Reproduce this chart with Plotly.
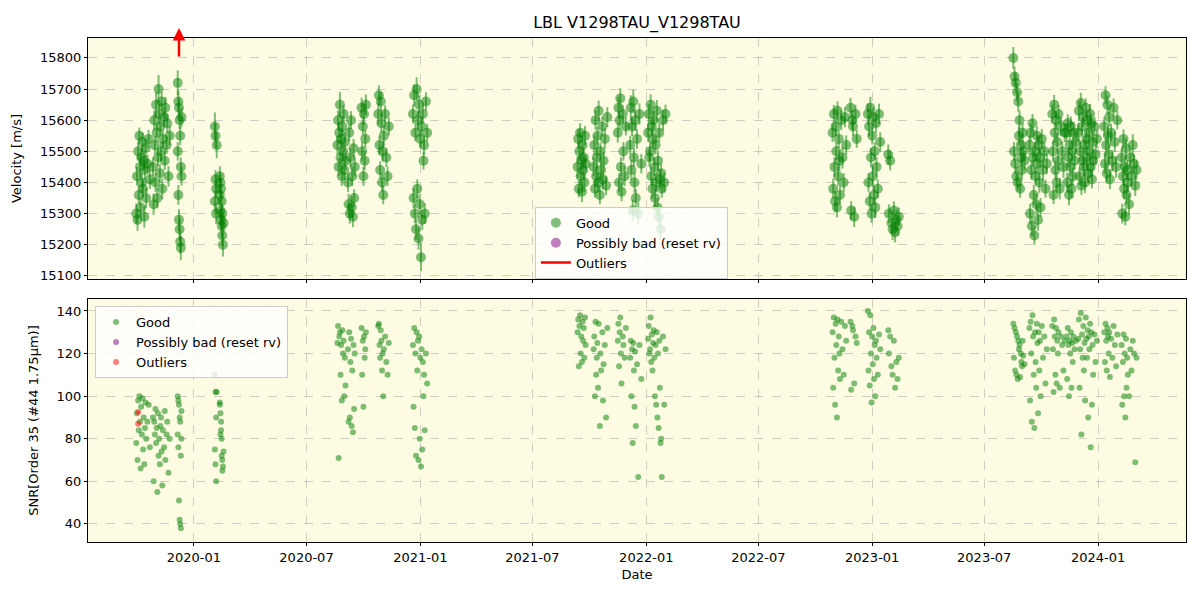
import plotly.graph_objects as go
from plotly.subplots import make_subplots

# ---- Good measurements: dates, RV [m/s], RV error [m/s], SNR ----
dates = [
    # 2019 Sep-Oct (20)
    "2019-09-30", "2019-10-01", "2019-10-02", "2019-10-03", "2019-10-04", "2019-10-05", "2019-10-06", "2019-10-07", "2019-10-08", "2019-10-09",
    "2019-10-10", "2019-10-11", "2019-10-12", "2019-10-13", "2019-10-14", "2019-10-15", "2019-10-16", "2019-10-18", "2019-10-20", "2019-10-22",
    # 2019 Oct-Nov (24)
    "2019-10-27", "2019-10-28", "2019-10-29", "2019-10-30", "2019-10-31", "2019-11-01", "2019-11-02", "2019-11-03", "2019-11-04", "2019-11-05",
    "2019-11-06", "2019-11-07", "2019-11-08", "2019-11-09", "2019-11-10", "2019-11-11", "2019-11-12", "2019-11-14", "2019-11-15", "2019-11-16",
    "2019-11-18", "2019-11-19", "2019-11-21", "2019-11-23",
    # 2019 Dec (14)
    "2019-12-06", "2019-12-06", "2019-12-07", "2019-12-07", "2019-12-08", "2019-12-08", "2019-12-09", "2019-12-09", "2019-12-10", "2019-12-10",
    "2019-12-11", "2019-12-11", "2019-12-12", "2019-12-12",
    # 2020 Feb (19)
    "2020-02-04", "2020-02-04", "2020-02-05", "2020-02-05", "2020-02-06", "2020-02-06", "2020-02-07",
    "2020-02-12", "2020-02-12", "2020-02-13", "2020-02-13", "2020-02-14", "2020-02-14", "2020-02-15", "2020-02-15", "2020-02-16",
    "2020-02-16", "2020-02-17", "2020-02-18",
    # 2020 Aug-Oct (34)
    "2020-08-20", "2020-08-21", "2020-08-22", "2020-08-23", "2020-08-24", "2020-08-25", "2020-08-26", "2020-08-27", "2020-08-28", "2020-08-29",
    "2020-08-30", "2020-08-31", "2020-09-01", "2020-09-02",
    "2020-09-06", "2020-09-07", "2020-09-08", "2020-09-09", "2020-09-10", "2020-09-11", "2020-09-12", "2020-09-13", "2020-09-14", "2020-09-15",
    "2020-09-16", "2020-09-17",
    "2020-09-28", "2020-09-29", "2020-09-30", "2020-10-01", "2020-10-02", "2020-10-03", "2020-10-04", "2020-10-05",
    # 2020 Oct-Nov (14)
    "2020-10-25", "2020-10-26", "2020-10-27", "2020-10-28", "2020-10-29", "2020-10-30", "2020-10-31", "2020-11-01", "2020-11-02", "2020-11-03",
    "2020-11-05", "2020-11-07", "2020-11-09", "2020-11-11",
    # 2020 Dec - 2021 Jan (22)
    "2020-12-20", "2020-12-21", "2020-12-22", "2020-12-23", "2020-12-24", "2020-12-25", "2020-12-26", "2020-12-27", "2020-12-28", "2020-12-29",
    "2020-12-30", "2020-12-31", "2021-01-01", "2021-01-02", "2021-01-03", "2021-01-04", "2021-01-05", "2021-01-06", "2021-01-07", "2021-01-08",
    "2021-01-10", "2021-01-12",
    # 2021 Sep (14)
    "2021-09-12", "2021-09-13", "2021-09-14", "2021-09-15", "2021-09-16", "2021-09-17", "2021-09-18", "2021-09-19", "2021-09-20", "2021-09-21",
    "2021-09-22", "2021-09-23", "2021-09-24", "2021-09-25",
    # 2021 Oct (18)
    "2021-10-08", "2021-10-09", "2021-10-10", "2021-10-11", "2021-10-12", "2021-10-13", "2021-10-14", "2021-10-15", "2021-10-16",
    "2021-10-18", "2021-10-19", "2021-10-20", "2021-10-22", "2021-10-23", "2021-10-24", "2021-10-26", "2021-10-28", "2021-10-30",
    # 2021 Nov (11)
    "2021-11-16", "2021-11-17", "2021-11-18", "2021-11-19", "2021-11-20", "2021-11-21", "2021-11-22", "2021-11-24", "2021-11-25", "2021-11-27",
    "2021-11-29",
    # 2021 Dec (14)
    "2021-12-06", "2021-12-07", "2021-12-08", "2021-12-09", "2021-12-10", "2021-12-11", "2021-12-12", "2021-12-13", "2021-12-14", "2021-12-15",
    "2021-12-17", "2021-12-19", "2021-12-21", "2021-12-24",
    # 2022 Jan (26)
    "2022-01-04", "2022-01-05", "2022-01-06", "2022-01-07", "2022-01-08", "2022-01-09", "2022-01-10", "2022-01-11", "2022-01-12", "2022-01-13",
    "2022-01-14", "2022-01-15", "2022-01-16", "2022-01-17", "2022-01-18", "2022-01-19", "2022-01-20", "2022-01-21", "2022-01-22", "2022-01-23",
    "2022-01-24", "2022-01-25", "2022-01-26", "2022-01-28", "2022-01-30", "2022-02-01",
    # 2022 Oct-Nov (18)
    "2022-10-29", "2022-10-30", "2022-10-31", "2022-11-01", "2022-11-02", "2022-11-03", "2022-11-04", "2022-11-05", "2022-11-06", "2022-11-07",
    "2022-11-08", "2022-11-09", "2022-11-10", "2022-11-12", "2022-11-14", "2022-11-16", "2022-11-18", "2022-11-20",
    # 2022 Nov-Dec (7)
    "2022-11-27", "2022-11-28", "2022-11-30", "2022-12-01", "2022-12-03", "2022-12-05", "2022-12-07",
    # 2022 Dec - 2023 Jan (18)
    "2022-12-25", "2022-12-26", "2022-12-27", "2022-12-28", "2022-12-29", "2022-12-30", "2022-12-31", "2023-01-01", "2023-01-02", "2023-01-03",
    "2023-01-04", "2023-01-05", "2023-01-06", "2023-01-07", "2023-01-08", "2023-01-10", "2023-01-12", "2023-01-14",
    # 2023 Jan-Feb (10)
    "2023-01-27", "2023-01-28", "2023-01-30", "2023-02-01", "2023-02-03", "2023-02-05", "2023-02-07", "2023-02-09", "2023-02-11", "2023-02-13",
    # 2023 Aug-Sep (18)
    "2023-08-17", "2023-08-18", "2023-08-19", "2023-08-20", "2023-08-21", "2023-08-22", "2023-08-23", "2023-08-24", "2023-08-25", "2023-08-26",
    "2023-08-27", "2023-08-28", "2023-08-29", "2023-08-30", "2023-08-31", "2023-09-01", "2023-09-02", "2023-09-04",
    # 2023 Sep-Oct (24)
    "2023-09-12", "2023-09-13", "2023-09-14", "2023-09-15", "2023-09-16", "2023-09-17", "2023-09-18", "2023-09-19", "2023-09-20", "2023-09-21",
    "2023-09-22", "2023-09-23", "2023-09-24", "2023-09-25", "2023-09-26", "2023-09-27", "2023-09-28", "2023-09-29", "2023-09-30", "2023-10-02",
    "2023-10-04", "2023-10-06", "2023-10-08", "2023-10-10",
    # 2023 Oct-Nov (16)
    "2023-10-19", "2023-10-20", "2023-10-21", "2023-10-22", "2023-10-23", "2023-10-24", "2023-10-25", "2023-10-26", "2023-10-27", "2023-10-28",
    "2023-10-29", "2023-10-31", "2023-11-02", "2023-11-04", "2023-11-06", "2023-11-08",
    # 2023 Nov (14)
    "2023-11-11", "2023-11-12", "2023-11-13", "2023-11-14", "2023-11-15", "2023-11-16", "2023-11-17", "2023-11-18", "2023-11-19", "2023-11-20",
    "2023-11-21", "2023-11-22", "2023-11-24", "2023-11-26",
    # 2023 Dec (28)
    "2023-11-30", "2023-12-01", "2023-12-02", "2023-12-03", "2023-12-04", "2023-12-05", "2023-12-06", "2023-12-07", "2023-12-08", "2023-12-09",
    "2023-12-10", "2023-12-11", "2023-12-12", "2023-12-13", "2023-12-14", "2023-12-15", "2023-12-16", "2023-12-17", "2023-12-18", "2023-12-19",
    "2023-12-20", "2023-12-21", "2023-12-22", "2023-12-23", "2023-12-24", "2023-12-26", "2023-12-28", "2023-12-30",
    # 2024 Jan (16)
    "2024-01-11", "2024-01-12", "2024-01-13", "2024-01-14", "2024-01-15", "2024-01-16", "2024-01-17", "2024-01-18", "2024-01-19", "2024-01-20",
    "2024-01-22", "2024-01-24", "2024-01-26", "2024-01-28", "2024-01-30", "2024-02-01",
    # 2024 Feb-Mar (18)
    "2024-02-08", "2024-02-09", "2024-02-10", "2024-02-11", "2024-02-12", "2024-02-13", "2024-02-14", "2024-02-15", "2024-02-16", "2024-02-17",
    "2024-02-18", "2024-02-20", "2024-02-22", "2024-02-24", "2024-02-26", "2024-02-28", "2024-03-01", "2024-03-03",
]

rv = [
    15300, 15420, 15280, 15500, 15360, 15550, 15450, 15320, 15480, 15400, 15530, 15380, 15470, 15290, 15440, 15510, 15350, 15460, 15540, 15410,
    15450, 15330, 15600, 15520, 15400, 15650, 15560, 15350, 15480, 15700, 15620, 15430, 15580, 15500, 15660, 15380, 15540, 15610, 15470, 15640,
    15520, 15590, 15420, 15550,
    15720, 15500, 15660, 15360, 15640, 15280, 15600, 15250, 15550, 15210, 15450, 15190, 15610, 15420,
    15580, 15340, 15550, 15410, 15300, 15380, 15520,
    15420, 15360, 15310, 15400, 15280, 15380, 15260, 15340, 15230, 15300, 15200, 15270,
    15520, 15600, 15450, 15560, 15650, 15480, 15540, 15420, 15580, 15500, 15620, 15440, 15530, 15470,
    15400, 15330, 15560, 15300, 15480, 15600, 15320, 15420, 15290, 15510, 15350, 15450,
    15640, 15500, 15580, 15420, 15620, 15470, 15540, 15650,
    15620, 15680, 15520, 15440, 15660, 15590, 15400, 15500, 15360, 15550, 15620, 15480, 15420, 15580,
    15620, 15350, 15680, 15300, 15560, 15250, 15700, 15380, 15600, 15220, 15650, 15330, 15540, 15160, 15580, 15280, 15620, 15470, 15520, 15300,
    15660, 15560,
    15450, 15540, 15380, 15500, 15560, 15420, 15470, 15370, 15520, 15440, 15480, 15400, 15550, 15460,
    15450, 15520, 15380, 15600, 15420, 15480, 15550, 15400, 15630, 15360, 15500, 15440, 15580, 15410, 15470, 15540, 15390, 15610,
    15560, 15640, 15400, 15600, 15670, 15450, 15370, 15620, 15500, 15420, 15580,
    15520, 15640, 15440, 15580, 15310, 15660, 15480, 15400, 15600, 15350, 15540, 15300, 15620, 15460,
    15560, 15620, 15480, 15500, 15650, 15420, 15580, 15380, 15540, 15600, 15450, 15350, 15520, 15400, 15630, 15320, 15470, 15290, 15560, 15410,
    15250, 15430, 15380, 15600, 15400, 15620,
    15560, 15380, 15620, 15450, 15340, 15580, 15500, 15320, 15630, 15420, 15540, 15470, 15360, 15600, 15480, 15400, 15610, 15520,
    15640, 15310, 15600, 15580, 15290, 15620, 15540,
    15620, 15400, 15580, 15340, 15640, 15480, 15300, 15550, 15420, 15610, 15360, 15500, 15320, 15590, 15450, 15380, 15620, 15530,
    15490, 15300, 15470, 15270, 15250, 15310, 15240, 15280, 15260, 15290,
    15800, 15500, 15740, 15460, 15720, 15420, 15690, 15400, 15660, 15550, 15600, 15380, 15520, 15480, 15440, 15560, 15500, 15470,
    15520, 15300, 15560, 15440, 15260, 15590, 15480, 15360, 15230, 15500, 15420, 15330, 15550, 15460, 15280, 15520, 15400, 15480, 15320, 15540,
    15440, 15500, 15380, 15460,
    15620, 15500, 15360, 15650, 15560, 15440, 15600, 15400, 15530, 15470, 15620, 15380, 15580, 15500, 15450, 15560,
    15560, 15400, 15590, 15480, 15360, 15520, 15450, 15580, 15380, 15500, 15420, 15560, 15470, 15530,
    15560, 15630, 15420, 15500, 15655, 15390, 15580, 15470, 15610, 15450, 15520, 15400, 15640, 15540, 15480, 15600, 15430, 15560, 15500, 15620,
    15450, 15590, 15410, 15530, 15470, 15580, 15490, 15540,
    15580, 15460, 15680, 15520, 15430, 15650, 15550, 15490, 15610, 15410, 15560, 15470, 15640, 15530, 15450, 15600,
    15480, 15300, 15420, 15540, 15380, 15450, 15290, 15510, 15360, 15440, 15400, 15330, 15480, 15420, 15520, 15460, 15390, 15440,
]

rv_err = [
    32, 30, 35, 28, 30, 26, 34, 30, 28, 32, 30, 29, 31, 35, 30, 28, 33, 30, 29, 31,
    30, 34, 32, 28, 30, 40, 30, 33, 29, 45, 32, 30, 28, 31, 30, 34, 29, 32, 30, 35, 28, 30, 33, 31,
    40, 30, 35, 32, 30, 34, 28, 36, 30, 38, 30, 40, 32, 30,
    45, 35, 40, 30, 34, 30, 42, 32, 30, 35, 30, 33, 30, 36, 30, 34, 30, 38, 32,
    30, 32, 28, 35, 40, 30, 29, 31, 33, 30, 28, 32, 30, 29,
    30, 34, 28, 32, 30, 29, 35, 31, 33, 30, 28, 30,
    32, 30, 28, 31, 34, 30, 29, 33,
    35, 32, 30, 28, 31, 30, 29, 33, 30, 32, 28, 30, 31, 29,
    30, 32, 35, 30, 28, 34, 38, 30, 32, 36, 30, 34, 28, 45, 30, 32, 30, 29, 31, 33, 30, 28,
    35, 30, 28, 32, 30, 31, 29, 33, 30, 28, 32, 30, 31, 29,
    30, 32, 28, 31, 30, 34, 29, 30, 33, 30, 28, 32, 31, 30, 29, 33, 30, 32,
    32, 35, 30, 29, 33, 31, 30, 28, 30, 32, 29,
    30, 40, 32, 31, 35, 38, 30, 33, 34, 30, 32, 36, 34, 31,
    30, 32, 29, 31, 33, 30, 28, 32, 30, 31, 29, 34, 30, 32, 35, 30, 33, 31, 30, 32, 35, 30, 29, 33, 31, 30,
    30, 32, 29, 31, 33, 30, 28, 32, 30, 31, 29, 34, 30, 32, 35, 30, 33, 31,
    32, 30, 30, 31, 33, 30, 29,
    34, 30, 32, 29, 35, 31, 30, 28, 32, 30, 31, 29, 34, 30, 32, 30, 33, 31,
    32, 30, 31, 33, 35, 30, 32, 34, 31, 30,
    35, 30, 32, 31, 33, 30, 30, 28, 32, 30, 31, 29, 34, 30, 32, 30, 33, 31,
    30, 32, 29, 31, 33, 30, 28, 32, 30, 31, 29, 34, 30, 32, 35, 30, 33, 31, 30, 32, 35, 30, 29, 33,
    30, 32, 29, 31, 33, 30, 28, 32, 30, 31, 29, 34, 30, 32, 35, 30,
    30, 32, 29, 31, 33, 30, 28, 32, 30, 31, 29, 34, 30, 32,
    30, 32, 29, 31, 33, 30, 28, 32, 30, 31, 29, 34, 30, 32, 35, 30, 33, 31, 30, 32, 35, 30, 29, 33, 31, 30, 32, 29,
    30, 32, 29, 31, 33, 30, 28, 32, 30, 31, 29, 34, 30, 32, 35, 30,
    30, 32, 29, 31, 33, 30, 28, 32, 30, 31, 29, 34, 30, 32, 35, 30, 33, 31,
]

snr = [
    78, 92, 70, 98, 84, 100, 88, 66, 95, 82, 99, 75, 90, 68, 85, 97, 80, 88, 96, 76,
    90, 60, 88, 82, 94, 78, 85, 55, 92, 72, 80, 68, 86, 90, 74, 58, 84, 76, 93, 70, 82, 88, 64, 80,
    100, 82, 98, 76, 96, 51, 90, 42, 88, 40, 72, 38, 93, 80,
    110, 75, 102, 68, 60, 90, 102, 97, 96, 82, 92, 88, 84, 72, 80, 65, 70, 67, 74,
    125, 133, 71, 128, 130, 110, 124, 98, 131, 120, 126, 100, 118, 105,
    122, 88, 130, 90, 116, 127, 86, 112, 83, 124, 94, 120,
    132, 110, 126, 95, 128, 118, 122, 130,
    133, 134, 124, 118, 131, 126, 112, 120, 100, 122, 128, 116, 110, 125,
    124, 95, 132, 85, 120, 72, 130, 112, 126, 70, 128, 80, 118, 67, 122, 75, 116, 100, 110, 84, 120, 106,
    130, 136, 114, 133, 138, 120, 128, 116, 135, 126, 132, 118, 137, 124,
    122, 128, 100, 135, 110, 118, 125, 104, 134, 86, 120, 112, 130, 98, 115, 124, 90, 132,
    126, 134, 114, 130, 137, 120, 106, 128, 124, 118, 132,
    118, 126, 100, 122, 78, 125, 112, 95, 121, 86, 115, 62, 124, 108,
    127, 133, 120, 122, 137, 116, 129, 112, 125, 131, 118, 100, 124, 96, 130, 90, 120, 85, 126, 104, 78, 80, 62, 128, 96, 122,
    130, 104, 137, 118, 96, 134, 124, 90, 136, 112, 128, 120, 108, 135, 122, 110, 133, 126,
    135, 103, 133, 131, 106, 128, 125,
    140, 112, 130, 105, 138, 120, 97, 128, 115, 132, 108, 124, 100, 126, 118, 110, 129, 122,
    131, 120, 128, 114, 110, 126, 104, 116, 108, 118,
    134, 118, 132, 112, 130, 110, 128, 108, 126, 122, 124, 109, 120, 116, 114, 126, 119, 115,
    132, 98, 135, 120, 88, 138, 128, 110, 85, 130, 116, 104, 134, 125, 92, 130, 112, 126, 100, 133, 118, 128, 106, 122,
    133, 122, 102, 136, 128, 110, 132, 106, 126, 120, 130, 104, 128, 124, 112, 126,
    128, 108, 132, 124, 100, 126, 120, 130, 104, 125, 116, 128, 122, 126,
    127, 136, 104, 122, 139, 82, 129, 118, 133, 112, 125, 98, 137, 127, 118, 131, 90, 128, 122, 134, 76, 130, 96, 124, 110, 129, 116, 126,
    130, 116, 134, 126, 112, 132, 128, 120, 130, 109, 127, 118, 133, 124, 114, 129,
    124, 96, 116, 129, 100, 120, 90, 127, 104, 118, 110, 100, 122, 112, 126, 120, 69, 118,
]

assert len(dates) == len(rv) == len(rv_err) == len(snr), (len(dates), len(rv), len(rv_err), len(snr))

# ---- Outliers ----
outlier_rv_dates = ["2019-12-08"]
outlier_rv_base = [15800]
outlier_rv_tip = [15896]
outlier_snr_dates = ["2019-10-03", "2019-10-03"]
outlier_snr = [92.5, 87]

GREEN = "rgba(0,128,0,0.5)"
PURPLE = "rgba(128,0,128,0.5)"
RED = "rgba(255,0,0,0.5)"

fig = make_subplots(rows=2, cols=1, shared_xaxes=True, vertical_spacing=0.04)

fig.add_trace(go.Scatter(
    x=dates, y=rv, mode="markers", name="Good",
    marker=dict(color=GREEN, size=10),
    error_y=dict(type="data", array=rv_err, visible=True, color=GREEN, thickness=2, width=0),
    legend="legend",
), row=1, col=1)
fig.add_trace(go.Scatter(
    x=[None], y=[None], mode="markers", name="Possibly bad (reset rv)",
    marker=dict(color=PURPLE, size=10), legend="legend",
), row=1, col=1)
fig.add_trace(go.Scatter(
    x=[None], y=[None], mode="lines", name="Outliers",
    line=dict(color="red", width=2.5), legend="legend",
), row=1, col=1)

fig.add_trace(go.Scatter(
    x=dates, y=snr, mode="markers", name="Good",
    marker=dict(color=GREEN, size=6), legend="legend2",
), row=2, col=1)
fig.add_trace(go.Scatter(
    x=[None], y=[None], mode="markers", name="Possibly bad (reset rv)",
    marker=dict(color=PURPLE, size=6), legend="legend2",
), row=2, col=1)
fig.add_trace(go.Scatter(
    x=outlier_snr_dates, y=outlier_snr, mode="markers", name="Outliers",
    marker=dict(color=RED, size=6), legend="legend2",
), row=2, col=1)

for d, base, tip in zip(outlier_rv_dates, outlier_rv_base, outlier_rv_tip):
    fig.add_annotation(
        x=d, y=tip, ax=d, ay=base, xref="x", yref="y", axref="x", ayref="y",
        text="", showarrow=True, arrowhead=2, arrowsize=1, arrowwidth=2.5,
        arrowcolor="red", standoff=0, startstandoff=0,
    )

grid = dict(showgrid=True, gridcolor="rgba(170,170,170,0.55)", griddash="dash", gridwidth=1,
            showline=True, linecolor="black", linewidth=1, mirror=True,
            ticks="outside", ticklen=3, tickcolor="black", zeroline=False, automargin=False,
            tickfont=dict(size=13, color="black"))

xr = ["2019-07-14", "2024-05-22"]
fig.update_xaxes(range=xr, dtick="M6", tick0="2020-01-01", tickformat="%Y-%m", **grid)
fig.update_xaxes(title_text="Date", title_font=dict(size=13), title_standoff=6, row=2, col=1)
fig.update_yaxes(range=[15090, 15864], dtick=100, tickformat="d", title_text="Velocity [m/s]",
                 title_font=dict(size=13), row=1, col=1, **grid)
fig.update_yaxes(range=[31.5, 145.6], dtick=20, title_text="SNR[Order 35 (#44 1.75μm)]",
                 title_font=dict(size=13), row=2, col=1, **grid)

fig.update_layout(
    width=1200, height=600,
    margin=dict(l=88, r=14, t=38, b=58),
    paper_bgcolor="white", plot_bgcolor="#fdfbe2",
    font=dict(family="DejaVu Sans", size=13, color="black"),
    title=dict(text="LBL V1298TAU_V1298TAU", xref="paper", x=0.5, xanchor="center",
               yref="container", y=0.963, yanchor="middle", font=dict(size=16)),
    xaxis=dict(domain=[0, 1]), xaxis2=dict(domain=[0, 1]),
    yaxis=dict(domain=[0.5218, 1.0]), yaxis2=dict(domain=[0.0, 0.482]),
    legend=dict(x=0.407, y=0.665, xanchor="left", yanchor="top", xref="paper", yref="paper",
                bgcolor="rgba(255,255,255,0.8)", bordercolor="#cccccc", borderwidth=1,
                font=dict(size=13), tracegroupgap=0),
    legend2=dict(x=0.0064, y=0.468, xanchor="left", yanchor="top", xref="paper", yref="paper",
                 bgcolor="rgba(255,255,255,0.8)", bordercolor="#cccccc", borderwidth=1,
                 font=dict(size=13), tracegroupgap=0),
    showlegend=True,
)

fig.write_html("out.html", post_script="document.body.style.margin='0';",
               config={"displayModeBar": False})
